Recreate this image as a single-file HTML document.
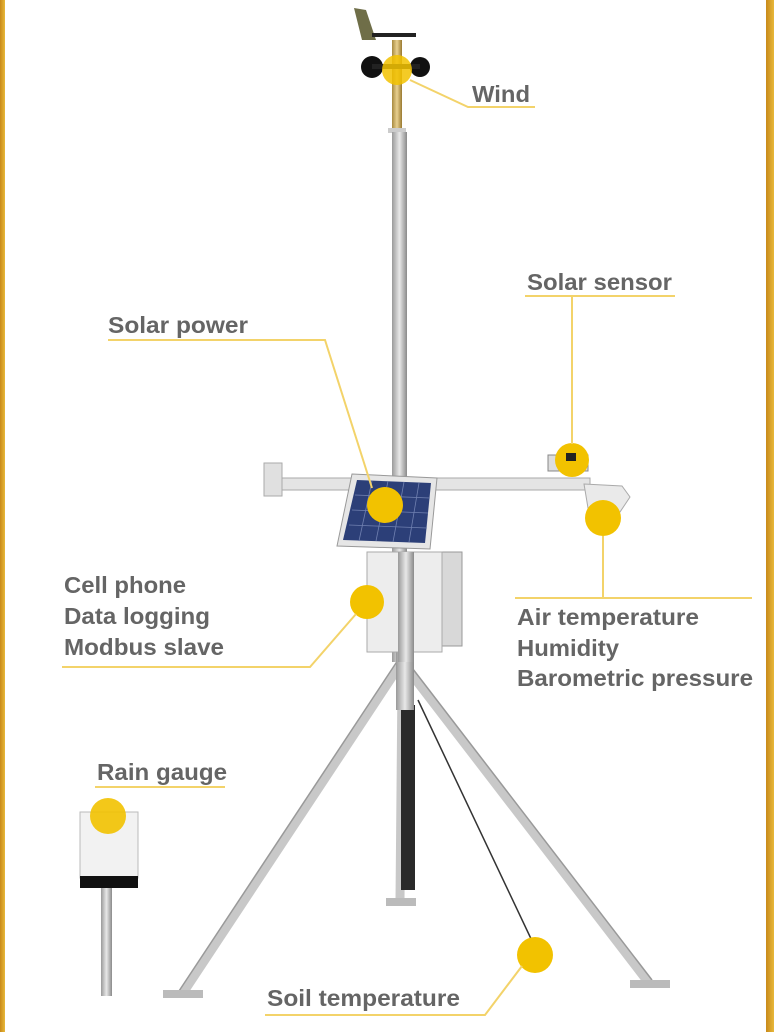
<!DOCTYPE html>
<html><head><meta charset="utf-8"><style>
html,body{margin:0;padding:0;background:#fff}
svg{display:block}
text{font-family:"Liberation Sans",sans-serif;fill:#656565;font-size:23px;font-weight:bold}
</style></head><body>
<svg width="774" height="1032" viewBox="0 0 774 1032">
<defs>
<linearGradient id="lb" x1="0" x2="1"><stop offset="0" stop-color="#c88a1a"/><stop offset="1" stop-color="#e8b83a"/></linearGradient>
<linearGradient id="pole" x1="0" x2="1"><stop offset="0" stop-color="#9a9a9a"/><stop offset="0.5" stop-color="#e8e8e8"/><stop offset="1" stop-color="#8a8a8a"/></linearGradient>
<linearGradient id="brass" x1="0" x2="1"><stop offset="0" stop-color="#a88a40"/><stop offset="0.5" stop-color="#e8d090"/><stop offset="1" stop-color="#9a7a30"/></linearGradient>
</defs>
<rect width="774" height="1032" fill="#fff"/>
<rect x="0" y="0" width="5" height="1032" fill="url(#lb)"/>
<rect x="766" y="0" width="8" height="1032" fill="url(#lb)"/>

<g stroke="#c8c8c8" stroke-width="9" stroke-linecap="round">
<line x1="402" y1="662" x2="183" y2="993"/>
<line x1="402" y1="662" x2="648" y2="982"/>
<line x1="402" y1="680" x2="400" y2="900"/>
</g>
<g stroke="#999" stroke-width="1.5">
<line x1="398" y1="660" x2="179" y2="991"/>
<line x1="406" y1="660" x2="652" y2="980"/>
</g>
<rect x="163" y="990" width="40" height="8" fill="#bbb"/>
<rect x="630" y="980" width="40" height="8" fill="#bbb"/>
<rect x="386" y="898" width="30" height="8" fill="#bbb"/>
<rect x="401" y="705" width="14" height="185" fill="#2a2a2a"/>
<line x1="418" y1="700" x2="542" y2="962" stroke="#333" stroke-width="1.5"/>

<rect x="392" y="40" width="10" height="92" fill="url(#brass)"/>
<rect x="388" y="128" width="18" height="5" fill="#ccc"/>
<rect x="392" y="132" width="15" height="530" fill="url(#pole)"/>
<rect x="396" y="650" width="18" height="60" fill="url(#pole)"/>
<polygon points="354,8 366,10 376,40 362,40" fill="#6f6e48"/>
<rect x="372" y="33" width="44" height="4" fill="#222"/>
<circle cx="372" cy="67" r="11" fill="#111"/>
<circle cx="420" cy="67" r="10" fill="#111"/>
<rect x="372" y="64" width="48" height="5" fill="#222"/>
<circle cx="397" cy="70" r="15" fill="#f2c200" opacity="0.85"/>

<rect x="265" y="478" width="325" height="12" fill="#e4e4e4" stroke="#aaa" stroke-width="1"/>
<rect x="264" y="463" width="18" height="33" fill="#e0e0e0" stroke="#aaa"/>
<rect x="548" y="455" width="40" height="16" fill="#ddd" stroke="#888"/>
<circle cx="572" cy="460" r="17" fill="#f2c200"/>
<rect x="566" y="453" width="10" height="8" fill="#222"/>
<polygon points="584,484 622,486 630,497 614,521 590,520" fill="#eaeaea" stroke="#aaa"/>
<circle cx="603" cy="518" r="18" fill="#f2c200"/>
<rect x="440" y="552" width="22" height="94" fill="#d8d8d8" stroke="#999"/>
<rect x="367" y="552" width="75" height="100" fill="#ededed" stroke="#aaa"/>
<rect x="398" y="552" width="16" height="110" fill="url(#pole)"/>
<polygon points="352,474 437,478 430,549 337,546" fill="#e6e6e6" stroke="#999"/>
<polygon points="357,480 431,483 425,543 343,540" fill="#2c3f78"/>
<g stroke="#7080b0" stroke-width="0.8">
<line x1="355" y1="495" x2="430" y2="498"/><line x1="352" y1="510" x2="428" y2="513"/><line x1="349" y1="525" x2="427" y2="528"/>
<line x1="372" y1="481" x2="359" y2="541"/><line x1="388" y1="481" x2="376" y2="541"/><line x1="404" y1="482" x2="393" y2="542"/><line x1="419" y1="483" x2="409" y2="542"/>
</g>
<circle cx="385" cy="505" r="18" fill="#f2c200"/>
<circle cx="367" cy="602" r="17" fill="#f2c200"/>

<rect x="101" y="886" width="11" height="110" fill="url(#pole)"/>
<rect x="80" y="812" width="58" height="66" fill="#f2f2f2" stroke="#bbb"/>
<rect x="80" y="876" width="58" height="12" fill="#111"/>
<circle cx="108" cy="816" r="18" fill="#f2c200" opacity="0.9"/>
<circle cx="535" cy="955" r="18" fill="#f2c200"/>

<g stroke="#f3d36a" stroke-width="2" fill="none">
<polyline points="410,80 468,107 535,107"/>
<polyline points="525,296 675,296"/><line x1="572" y1="296" x2="572" y2="444"/>
<polyline points="108,340 325,340 372,488"/>
<polyline points="62,667 310,667 356,614"/>
<polyline points="515,598 752,598"/><line x1="603" y1="598" x2="603" y2="536"/>
<polyline points="95,787 225,787"/>
<polyline points="265,1015 485,1015 522,966"/>
</g>

<g>
<text x="472" y="102" textLength="58" lengthAdjust="spacingAndGlyphs">Wind</text>
<text x="527" y="290" textLength="145" lengthAdjust="spacingAndGlyphs">Solar sensor</text>
<text x="108" y="333" textLength="140" lengthAdjust="spacingAndGlyphs">Solar power</text>
<text x="64" y="593" textLength="122" lengthAdjust="spacingAndGlyphs">Cell phone</text>
<text x="64" y="624" textLength="146" lengthAdjust="spacingAndGlyphs">Data logging</text>
<text x="64" y="655" textLength="160" lengthAdjust="spacingAndGlyphs">Modbus slave</text>
<text x="517" y="625" textLength="182" lengthAdjust="spacingAndGlyphs">Air temperature</text>
<text x="517" y="656" textLength="102" lengthAdjust="spacingAndGlyphs">Humidity</text>
<text x="517" y="686" textLength="236" lengthAdjust="spacingAndGlyphs">Barometric pressure</text>
<text x="97" y="780" textLength="130" lengthAdjust="spacingAndGlyphs">Rain gauge</text>
<text x="267" y="1006" textLength="193" lengthAdjust="spacingAndGlyphs">Soil temperature</text>
</g>
</svg>
</body></html>
